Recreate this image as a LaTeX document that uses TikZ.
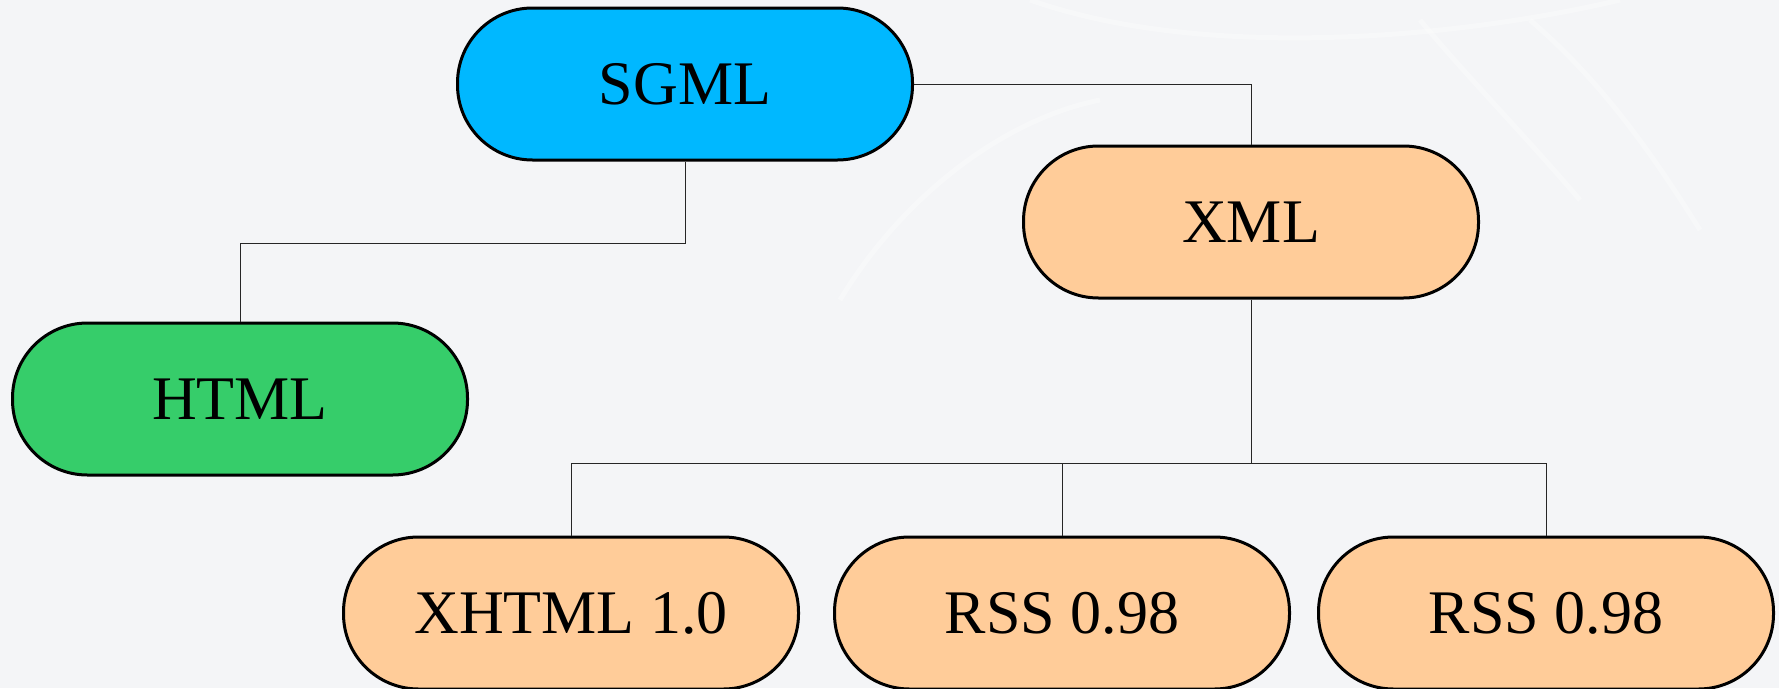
\documentclass[tikz,border=0pt]{standalone}
\usepackage{fontspec}
\setmainfont{Liberation Serif}
\definecolor{pagebg}{HTML}{F4F5F7}
\definecolor{sgmlblue}{HTML}{00B8FF}
\definecolor{htmlgreen}{HTML}{36CD6A}
\definecolor{xmlorange}{HTML}{FFCC99}
\tikzset{
  langbox/.style={draw=black, line width=3pt, rounded corners=75pt,
    minimum width=455pt, minimum height=152pt, inner sep=0pt,
    font=\fontsize{62}{70}\selectfont, text=black},
  link/.style={draw=black!85, line width=1pt}
}
\begin{document}
\begin{tikzpicture}[x=1pt, y=-1pt]
  % page background
  \fill[pagebg] (0,0) rectangle (1779,688);
  \useasboundingbox (0,0) rectangle (1779,688);
  % faint background swirls
  \begin{scope}[white, opacity=0.3, line width=5pt]
    \draw (1030,0) .. controls (1200,60) and (1450,40) .. (1620,0);
    \draw (1530,20) .. controls (1600,80) and (1650,150) .. (1700,230);
    \draw (1580,200) .. controls (1520,130) and (1470,80) .. (1420,20);
    \draw (840,300) .. controls (900,200) and (1000,120) .. (1100,100);
  \end{scope}

  % language nodes
  \node[langbox, fill=sgmlblue]   (sgml)  at (685,84)   {SGML};
  \node[langbox, fill=xmlorange]  (xml)   at (1251,222) {XML};
  \node[langbox, fill=htmlgreen]  (html)  at (240,399)  {HTML};
  \node[langbox, fill=xmlorange]  (xhtml) at (571,613)  {XHTML 1.0};
  \node[langbox, fill=xmlorange]  (rssa)  at (1062,613) {RSS 0.98};
  \node[langbox, fill=xmlorange]  (rssb)  at (1546,613) {RSS 0.98};

  % tree connectors
  \draw[link] (sgml.east) -| (xml.north);
  \draw[link] (sgml.south) -- ++(0,82) coordinate (hbend) -| (html.north);
  \draw[link] (xml.south) -- ++(0,164) coordinate (bus);
  \draw[link] (bus) -| (xhtml.north);
  \draw[link] (bus) -| (rssb.north);
  \draw[link] (bus -| rssa.north) -- (rssa.north);
\end{tikzpicture}
\end{document}
